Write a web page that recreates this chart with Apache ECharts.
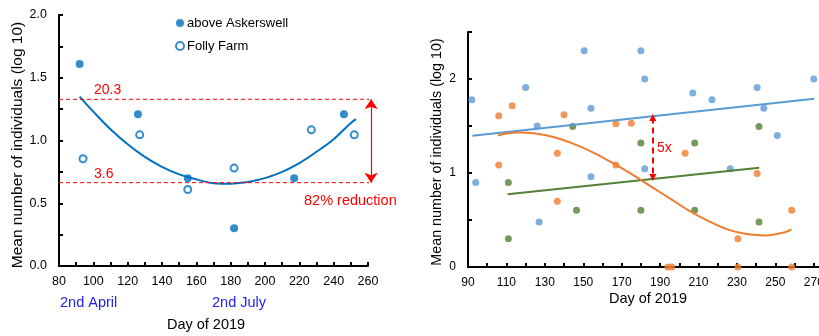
<!DOCTYPE html>
<html>
<head>
<meta charset="utf-8">
<script src="https://cdn.jsdelivr.net/npm/echarts@6/dist/echarts.min.js"></script>
<style>
  html, body { margin: 0; padding: 0; background: #fff; }
  #chart { width: 819px; height: 336px; }
</style>
</head>
<body>
<div id="chart"></div>
<script>
// left panel: two sites, day of year vs log10 mean
var askerswell = [[92, 1.61], [126, 1.21], [155, 0.70], [182, 0.30], [217, 0.70], [246, 1.21]];
var follyFarm = [[94, 0.855], [127, 1.045], [155, 0.61], [182, 0.78], [227, 1.085], [252, 1.045]];
// fitted curve
var leftFitX = [92, 100, 110, 120, 130, 140, 150, 160, 170, 180, 190, 200, 210, 220, 230, 240, 250, 253];
var leftFitY = [1.35, 1.23, 1.09, 0.97, 0.87, 0.79, 0.73, 0.69, 0.66, 0.655, 0.67, 0.70, 0.75, 0.82, 0.91, 1.01, 1.14, 1.17];
var refHigh = 1.328, refLow = 0.664, refEnd = 263, arrowDay = 261.8;

// right panel: three groups
var blueDots = [[92, 1.78], [94, 0.90], [120, 1.91], [126, 1.50], [127, 0.48], [150.5, 2.30], [154, 1.69], [154, 0.96],
  [180, 2.30], [182, 2.0], [182, 1.045], [207, 1.85], [217, 1.78], [226.5, 1.045], [240.5, 1.91], [244, 1.69], [251, 1.40], [270, 2.0]];
var orangeDots = [[106, 1.61], [113, 1.715], [106, 1.085], [136.5, 1.21], [136.5, 0.70], [140, 1.62], [167, 1.525], [167, 1.085],
  [175, 1.53], [194, 0], [196, 0], [203, 1.21], [230.5, 0.30], [230.5, 0], [240.5, 0.995], [258.5, 0.605], [258.5, 0]];
var greenDots = [[111, 0.90], [111, 0.30], [144.5, 1.495], [146.5, 0.605], [180, 1.32], [180, 0.605], [208, 1.32], [208, 0.605],
  [241.5, 1.495], [241.5, 0.48]];
var blueFit = [[92.3, 1.396], [270.3, 1.79]];
var greenFit = [[110.6, 0.774], [241.6, 1.055]];
var orangeFitX = [105.6, 115, 125, 135, 145, 155, 165, 175, 185, 195, 205, 215, 225, 235, 245, 255, 258.4];
var orangeFitY = [1.40, 1.43, 1.42, 1.38, 1.31, 1.22, 1.11, 0.99, 0.86, 0.73, 0.60, 0.49, 0.40, 0.35, 0.335, 0.37, 0.40];
var gapTop = 1.59, gapBottom = 0.952, gapDay = 186.2;

function zip(xs, ys) {
  return xs.map(function (x, i) { return [x, ys[i]]; });
}

var font = 'Liberation Sans, Arial, sans-serif';
var axisBase = {
  axisLine: { onZero: false, lineStyle: { color: '#000', width: 2 } },
  axisTick: { inside: true, length: 4, lineStyle: { color: '#000', width: 2 } },
  minorTick: { show: true, splitNumber: 2, length: 4, lineStyle: { color: '#000', width: 2 } },
  splitLine: { show: false },
  axisLabel: { color: '#000', fontFamily: font, fontSize: 12.5 }
};
function axis(extra) {
  return echarts.util.merge(echarts.util.clone(axisBase), extra, true);
}

var chart = echarts.init(document.getElementById('chart'));
chart.setOption({
  backgroundColor: '#fff',
  animation: false,
  grid: [
    { left: 59, top: 15, width: 309, height: 251, outerBoundsMode: 'none' },
    { left: 468, top: 32, width: 365, height: 235, outerBoundsMode: 'none' }
  ],
  xAxis: [
    axis({ gridIndex: 0, type: 'value', min: 80, max: 260, interval: 20, axisLabel: { margin: 9 } }),
    axis({ gridIndex: 1, type: 'value', min: 90, max: 280, interval: 20,
      axisLabel: { margin: 10, fontSize: 12, showMaxLabel: false } })
  ],
  yAxis: [
    axis({ gridIndex: 0, type: 'value', min: 0, max: 2, interval: 0.5,
      axisLabel: { margin: 12, formatter: function (v) { return v.toFixed(1); } } }),
    axis({ gridIndex: 1, type: 'value', min: 0, max: 2.5, interval: 0.5, minorTick: { show: false },
      axisLabel: { margin: 12, fontSize: 12, formatter: function (v) { return v % 1 === 0 ? String(v) : ''; } } })
  ],
  legend: {
    orient: 'vertical', left: 175, top: 16, padding: 0, itemGap: 9,
    itemWidth: 8, itemHeight: 8,
    textStyle: { fontFamily: font, fontSize: 13, color: '#000', lineHeight: 14, padding: [0, 0, 0, -2] },
    data: ['above Askerswell', 'Folly Farm']
  },
  series: [
    { name: 'above Askerswell', type: 'scatter', xAxisIndex: 0, yAxisIndex: 0, symbol: 'circle', symbolSize: 8,
      itemStyle: { color: '#0070C0' }, data: askerswell, z: 4 },
    { name: 'Folly Farm', type: 'scatter', xAxisIndex: 0, yAxisIndex: 0, symbol: 'emptyCircle', symbolSize: 7,
      itemStyle: { color: '#0070C0', borderWidth: 1 }, data: follyFarm, z: 4 },
    { name: 'fit', type: 'line', xAxisIndex: 0, yAxisIndex: 0, smooth: 0.4, showSymbol: false, symbol: 'none',
      lineStyle: { color: '#0070C0', width: 2 }, data: zip(leftFitX, leftFitY), z: 3 },
    { name: 'high', type: 'line', xAxisIndex: 0, yAxisIndex: 0, clip: false, symbol: 'none',
      lineStyle: { color: '#FF0000', width: 1, type: [4, 3] }, data: [[80, refHigh], [refEnd, refHigh]] },
    { name: 'low', type: 'line', xAxisIndex: 0, yAxisIndex: 0, clip: false, symbol: 'none',
      lineStyle: { color: '#FF0000', width: 1, type: [4, 3] }, data: [[80, refLow], [refEnd, refLow]] },
    // double-headed arrow between the two reference levels
    { name: 'arrow', type: 'lines', coordinateSystem: 'cartesian2d', xAxisIndex: 0, yAxisIndex: 0, clip: false,
      symbol: ['arrow', 'arrow'], symbolSize: 10, silent: true,
      itemStyle: { color: '#FF0000' },
      lineStyle: { color: '#FF0000', width: 1.2, opacity: 1 },
      data: [{ coords: [[arrowDay, refHigh], [arrowDay, refLow]], lineStyle: { color: '#FF0000' } }] },

    { name: 'blue', type: 'scatter', xAxisIndex: 1, yAxisIndex: 1, symbolSize: 7, clip: false,
      itemStyle: { color: '#5B9BD5' }, data: blueDots },
    { name: 'orange', type: 'scatter', xAxisIndex: 1, yAxisIndex: 1, symbolSize: 7, clip: false,
      itemStyle: { color: '#ED7D31' }, data: orangeDots },
    { name: 'green', type: 'scatter', xAxisIndex: 1, yAxisIndex: 1, symbolSize: 7, clip: false,
      itemStyle: { color: '#538135' }, data: greenDots },
    { name: 'blueFit', type: 'line', xAxisIndex: 1, yAxisIndex: 1, symbol: 'none',
      lineStyle: { color: '#5B9BD5', width: 2 }, data: blueFit, z: 3 },
    { name: 'greenFit', type: 'line', xAxisIndex: 1, yAxisIndex: 1, symbol: 'none',
      lineStyle: { color: '#538135', width: 2 }, data: greenFit, z: 3 },
    { name: 'orangeFit', type: 'line', xAxisIndex: 1, yAxisIndex: 1, symbol: 'none', smooth: 0.3,
      lineStyle: { color: '#ED7D31', width: 2 }, data: zip(orangeFitX, orangeFitY), z: 3,
      markLine: {
        silent: true, symbol: ['triangle', 'triangle'], symbolSize: [7, 7], label: { show: false },
        lineStyle: { color: '#FF0000', width: 2, type: [6, 4] },
        data: [[{ coord: [gapDay, gapTop] }, { coord: [gapDay, gapBottom] }]]
      } }
  ],
  graphic: [
    { type: 'text', x: 94, y: 90, style: { text: '20.3', fill: '#FF0000', font: '14px ' + font, textVerticalAlign: 'middle' } },
    { type: 'text', x: 94, y: 174, style: { text: '3.6', fill: '#FF0000', font: '14px ' + font, textVerticalAlign: 'middle' } },
    { type: 'text', x: 304, y: 201, style: { text: '82% reduction', fill: '#FF0000', font: '14.5px ' + font, textVerticalAlign: 'middle' } },
    { type: 'text', x: 60, y: 303, style: { text: '2nd April', fill: '#2222EE', font: '14.5px ' + font, textVerticalAlign: 'middle' } },
    { type: 'text', x: 212, y: 303, style: { text: '2nd July', fill: '#2222EE', font: '14.5px ' + font, textVerticalAlign: 'middle' } },
    { type: 'text', x: 206, y: 325, style: { text: 'Day of 2019', fill: '#000', font: '14.5px ' + font, textAlign: 'center', textVerticalAlign: 'middle' } },
    { type: 'text', x: 18, y: 145, rotation: Math.PI / 2,
      style: { text: 'Mean number of individuals (log 10)', fill: '#000', font: '15.5px ' + font, textAlign: 'center', textVerticalAlign: 'middle' } },
    { type: 'text', x: 657, y: 148, style: { text: '5x', fill: '#FF0000', font: '14px ' + font, textVerticalAlign: 'middle' } },
    { type: 'text', x: 648, y: 299, style: { text: 'Day of 2019', fill: '#000', font: '14.5px ' + font, textAlign: 'center', textVerticalAlign: 'middle' } },
    { type: 'text', x: 437, y: 152, rotation: Math.PI / 2,
      style: { text: 'Mean number of individuals (log 10)', fill: '#000', font: '14.3px ' + font, textAlign: 'center', textVerticalAlign: 'middle' } }
  ]
});
</script>
</body>
</html>
